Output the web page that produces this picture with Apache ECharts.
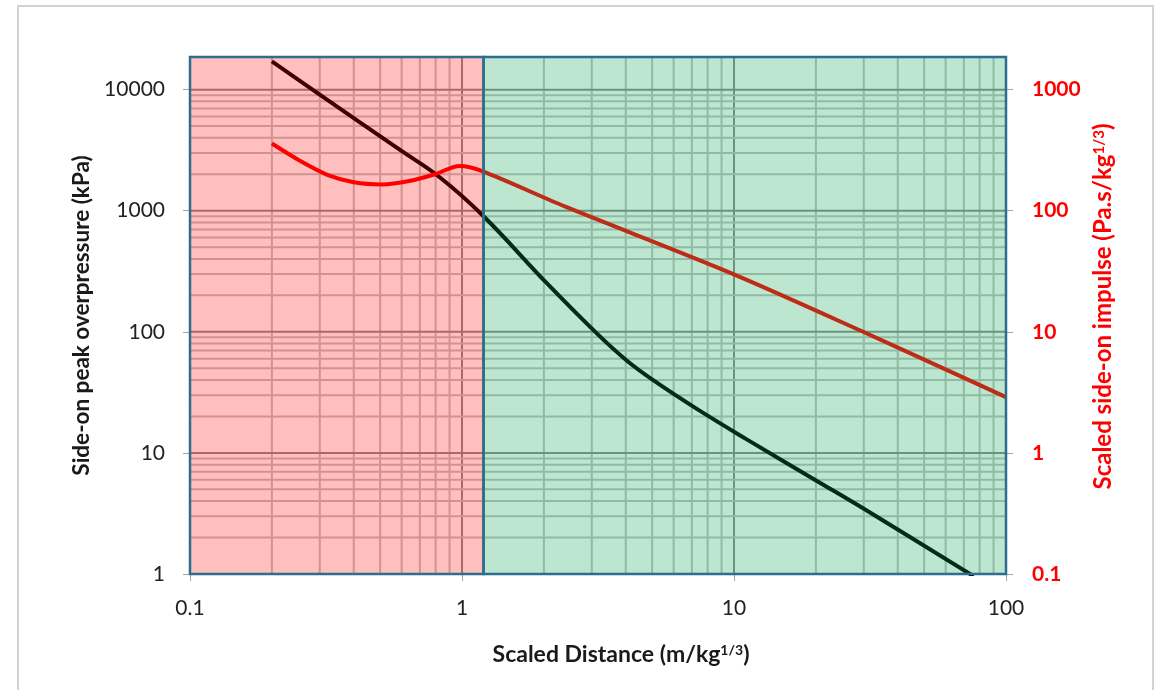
<!DOCTYPE html>
<html>
<head>
<meta charset="utf-8">
<script src="https://cdn.jsdelivr.net/npm/echarts@6/dist/echarts.min.js"></script>
<style>
  html, body { margin: 0; padding: 0; background: #ffffff; }
  #chart { width: 1156px; height: 690px; }
</style>
</head>
<body>
<div id="chart"></div>
<script>
// Side-on peak overpressure (kPa) against scaled distance (m/kg^1/3)
const overpressure = [
  [0.2, 17100], [0.3, 9100], [0.42, 5400], [0.59, 3190], [0.83, 1880],
  [1.2, 900], [2.05, 252], [3.13, 97], [4.03, 58], [5.06, 39.7],
  [7.3, 23.1], [11.1, 13.0], [20.1, 5.9], [32.5, 3.1], [76, 0.96]
];
// Scaled side-on impulse (Pa.s/kg^1/3) against scaled distance
const impulse = [
  [0.2, 359], [0.254, 258], [0.318, 199], [0.4, 172], [0.51, 165],
  [0.64, 176], [0.79, 199], [0.98, 234], [1.18, 213], [2.4, 108],
  [9.6, 31], [29, 10.3], [100, 2.89]
];

const xTicks = [0.1, 1, 10, 100];
const xTickLabels = ['0.1', '1', '10', '100'];
const yLeftTicks = [1, 10, 100, 1000, 10000];
const yLeftLabels = ['1', '10', '100', '1000', '10000'];
const yRightTicks = [0.1, 1, 10, 100, 1000];
const yRightLabels = ['0.1', '1', '10', '100', '1000'];

// shaded zones along the distance axis
const zoneEdges = [0.1, 1.2, 100];
const zoneColors = ['rgba(255,0,0,0.25)', 'rgba(10,163,81,0.27)'];

const X_MIN = 0.1, X_MAX = 100;
const YL_MIN = 1, YL_MAX = 18600;
const YR_MIN = 0.1, YR_MAX = 1860;

const FONT = 'Lato';
const BORDER = '#2c6e8c';

// positions of the 1..9 lines inside every decade
function decadeLines(lo, hi) {
  const out = [];
  for (let d = lo; d < hi * 0.999; d *= 10) {
    for (let k = 1; k < 10; k++) {
      const v = +(d * k).toPrecision(4);
      if (v > lo && v < hi) out.push([v, k === 1 ? 1 : 0]);
    }
  }
  return out;
}
const vGrid = decadeLines(X_MIN, X_MAX);
const hGrid = decadeLines(YL_MIN, YL_MAX);

function tickFormatter(ticks, labels) {
  return function (v) {
    const i = ticks.findIndex(t => Math.abs(Math.log10(v) - Math.log10(t)) < 1e-6);
    return i >= 0 ? labels[i] : '';
  };
}

const gridLineStyle = major => ({
  stroke: major ? '#8e8e8e' : '#c3c3c3',
  lineWidth: 2
});

const chart = echarts.init(document.getElementById('chart'), null, { renderer: 'canvas' });

chart.setOption({
  animation: false,
  backgroundColor: '#ffffff',
  graphic: [{
    type: 'rect',
    silent: true,
    z: -10,
    shape: { x: 18, y: 6, width: 1135, height: 720 },
    style: { fill: 'none', stroke: '#d2d2d2', lineWidth: 2 }
  }],
  grid: { left: 190, right: 150, top: 57, bottom: 116, containLabel: false },
  xAxis: {
    type: 'log',
    logBase: 10,
    min: X_MIN,
    max: X_MAX,
    name: 'Scaled Distance (m/kg{s|1/3})',
    nameLocation: 'middle',
    nameGap: 69,
    nameTextStyle: {
      fontFamily: FONT, fontSize: 23, fontWeight: 'bold', color: '#1a1a1a',
      padding: [0, 0, 0, 46],
      rich: { s: { fontFamily: FONT, fontSize: 14, fontWeight: 'bold', color: '#1a1a1a', verticalAlign: 'top' } }
    },
    axisLine: { show: true, lineStyle: { color: '#a6a6a6', width: 1 } },
    axisTick: { show: true, length: 7, customValues: xTicks, lineStyle: { color: '#a6a6a6' } },
    axisLabel: {
      customValues: xTicks,
      formatter: tickFormatter(xTicks, xTickLabels),
      fontFamily: FONT, fontSize: 21, color: '#222222', margin: 24
    },
    splitLine: { show: false },
    minorTick: { show: false },
    minorSplitLine: { show: false }
  },
  yAxis: [{
    type: 'log',
    logBase: 10,
    position: 'left',
    min: YL_MIN,
    max: YL_MAX,
    name: 'Side-on peak overpressure (kPa)',
    nameLocation: 'middle',
    nameRotate: 90,
    nameGap: 96,
    nameTextStyle: { fontFamily: FONT, fontSize: 22.5, fontWeight: 'bold', color: '#1a1a1a' },
    axisLine: { show: true, lineStyle: { color: '#a6a6a6', width: 1 } },
    axisTick: { show: true, length: 7, customValues: yLeftTicks, lineStyle: { color: '#a6a6a6' } },
    axisLabel: {
      customValues: yLeftTicks,
      formatter: tickFormatter(yLeftTicks, yLeftLabels),
      fontFamily: FONT, fontSize: 21, color: '#222222', margin: 25
    },
    splitLine: { show: false }
  }, {
    type: 'log',
    logBase: 10,
    position: 'right',
    min: YR_MIN,
    max: YR_MAX,
    name: 'Scaled side-on impulse (Pa.s/kg{s|1/3})',
    nameLocation: 'middle',
    nameRotate: 90,
    nameGap: 84,
    nameTextStyle: {
      fontFamily: FONT, fontSize: 24, fontWeight: 'bold', color: '#ff0000',
      padding: [0, 0, 0, 18],
      rich: { s: { fontFamily: FONT, fontSize: 15, fontWeight: 'bold', color: '#ff0000', verticalAlign: 'top' } }
    },
    axisLine: { show: true, lineStyle: { color: '#a6a6a6', width: 1 } },
    axisTick: { show: true, length: 7, customValues: yRightTicks, lineStyle: { color: '#a6a6a6' } },
    axisLabel: {
      customValues: yRightTicks,
      formatter: tickFormatter(yRightTicks, yRightLabels),
      fontFamily: FONT, fontSize: 21, fontWeight: 'bold', color: '#ff0000', margin: 26
    },
    splitLine: { show: false }
  }],
  series: [
    {
      // vertical grid lines
      type: 'custom',
      z: 1,
      silent: true,
      xAxisIndex: 0,
      yAxisIndex: 0,
      data: vGrid.map(g => [g[0], YL_MIN, g[1]]),
      renderItem: function (params, api) {
        const cs = params.coordSys;
        const x = api.coord([api.value(0), YL_MIN])[0];
        return {
          type: 'line',
          shape: { x1: x, y1: cs.y, x2: x, y2: cs.y + cs.height },
          style: gridLineStyle(api.value(2) === 1)
        };
      }
    },
    {
      // horizontal grid lines
      type: 'custom',
      z: 1,
      silent: true,
      xAxisIndex: 0,
      yAxisIndex: 0,
      data: hGrid.map(g => [X_MIN, g[0], g[1]]),
      renderItem: function (params, api) {
        const cs = params.coordSys;
        const y = api.coord([X_MIN, api.value(1)])[1];
        return {
          type: 'line',
          shape: { x1: cs.x, y1: y, x2: cs.x + cs.width, y2: y },
          style: gridLineStyle(api.value(2) === 1)
        };
      }
    },
    {
      name: 'Side-on peak overpressure',
      type: 'line',
      xAxisIndex: 0,
      yAxisIndex: 0,
      z: 2,
      data: overpressure,
      smooth: 0.4,
      symbol: 'none',
      clip: true,
      lineStyle: { color: '#000000', width: 4 }
    },
    {
      name: 'Scaled side-on impulse',
      type: 'line',
      xAxisIndex: 0,
      yAxisIndex: 1,
      z: 2,
      data: impulse,
      smooth: 0.3,
      symbol: 'none',
      clip: true,
      lineStyle: { color: '#ff0000', width: 4 }
    },
    {
      // tinted zones laid over the grid and curves
      type: 'custom',
      z: 3,
      silent: true,
      xAxisIndex: 0,
      yAxisIndex: 0,
      data: zoneColors.map((c, i) => [zoneEdges[i], YL_MIN, i, zoneEdges[i + 1]]),
      renderItem: function (params, api) {
        const cs = params.coordSys;
        const x0 = api.coord([api.value(0), YL_MIN])[0];
        const x1 = api.coord([api.value(3), YL_MIN])[0];
        return {
          type: 'rect',
          shape: { x: x0, y: cs.y, width: x1 - x0, height: cs.height },
          style: { fill: zoneColors[api.value(2)], stroke: BORDER, lineWidth: 2.5 }
        };
      }
    }
  ]
});
</script>
</body>
</html>
